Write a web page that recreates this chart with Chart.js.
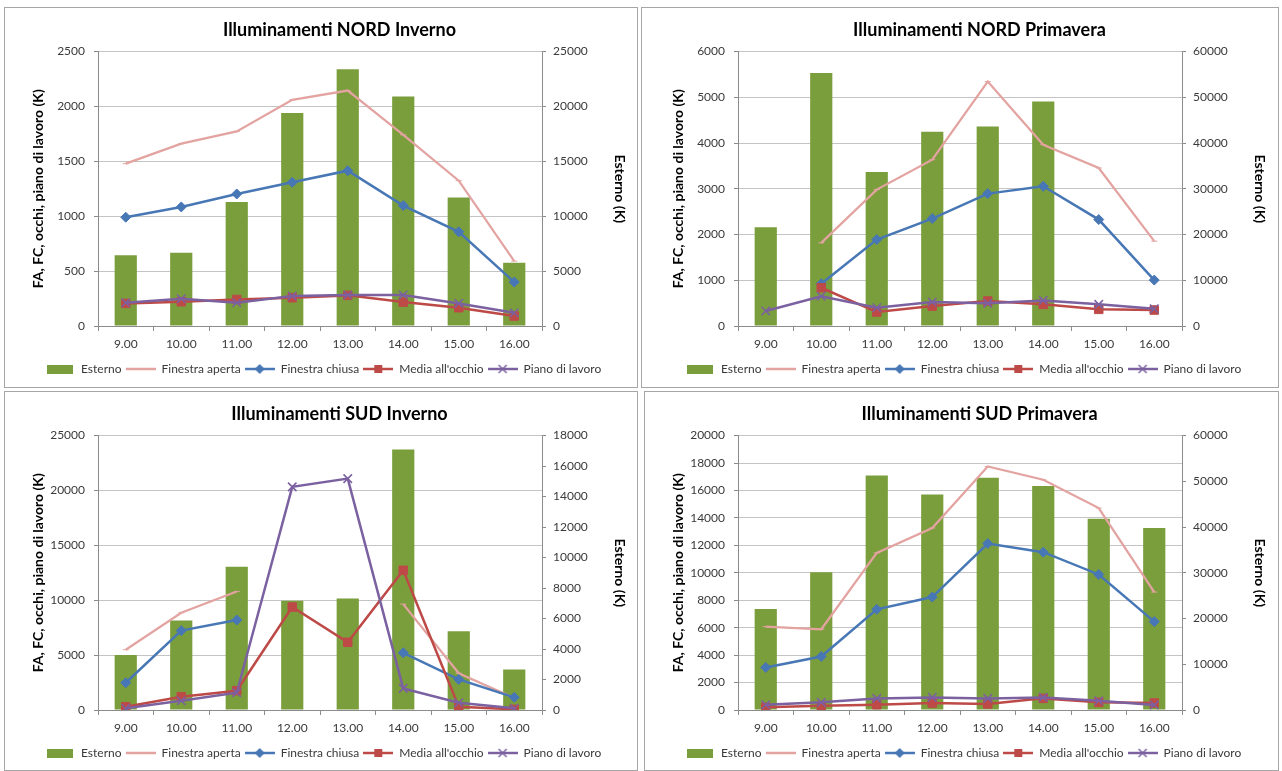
<!DOCTYPE html>
<html lang="it">
  <head>
    <meta charset="UTF-8" />
    <title>Illuminamenti</title>
    <script src="https://cdn.jsdelivr.net/npm/chart.js@4.4.1/dist/chart.umd.min.js"></script>
    <style>
      html, body { margin: 0; padding: 0; background: #fff; overflow: hidden; }
      body { width: 1282px; height: 771px; position: relative; }
      .box { position: absolute; width: 633px; height: 380px; }
      .frame { position: absolute; box-sizing: border-box; border: 1px solid #a6a6a6; pointer-events: none; }
    </style>
  </head>
  <body>
    <div class="box" style="left:5px;top:8px"><canvas id="nordInv" width="633" height="380"></canvas></div>
    <div class="box" style="left:645px;top:8px"><canvas id="nordPri" width="633" height="380"></canvas></div>
    <div class="box" style="left:5px;top:392px"><canvas id="sudInv" width="633" height="380"></canvas></div>
    <div class="box" style="left:645px;top:392px"><canvas id="sudPri" width="633" height="380"></canvas></div>

    <div class="frame" style="left:4px;top:7px;width:634px;height:381px"></div>
    <div class="frame" style="left:641px;top:7px;width:638px;height:381px"></div>
    <div class="frame" style="left:4px;top:391px;width:634px;height:380px"></div>
    <div class="frame" style="left:644px;top:391px;width:635px;height:380px"></div>

    <script>
      // categories (ore)
      const hours = ["9.00", "10.00", "11.00", "12.00", "13.00", "14.00", "15.00", "16.00"];
      const seriesNames = ["Esterno", "Finestra aperta", "Finestra chiusa", "Media all'occhio", "Piano di lavoro"];
      const leftTitle = "FA, FC, occhi, piano di lavoro (K)";
      const rightTitle = "Esterno (K)";

      // NORD Inverno
      const nordInvEsterno = [6450, 6670, 11300, 19400, 23400, 20900, 11700, 5760];
      const nordInvAperta = [1479, 1661, 1773, 2061, 2145, 1742, 1324, 591];
      const nordInvChiusa = [991, 1085, 1203, 1309, 1415, 1097, 858, 400];
      const nordInvOcchio = [206, 221, 242, 258, 279, 218, 167, 91];
      const nordInvPiano = [212, 248, 212, 273, 282, 282, 206, 121];
      const nordInvLeftAxis = [0, 2500, 500];
      const nordInvRightAxis = [0, 25000, 5000];

      // NORD Primavera
      const nordPriEsterno = [21600, 55300, 33700, 42500, 43600, 49100, null, null];
      const nordPriAperta = [null, 1818, 2982, 3636, 5345, 3964, 3455, 1855];
      const nordPriChiusa = [null, 924, 1891, 2349, 2895, 3055, 2327, 1004];
      const nordPriOcchio = [null, 836, 305, 436, 545, 473, 364, 349];
      const nordPriPiano = [327, 650, 400, 524, 495, 560, 473, 378];
      const nordPriLeftAxis = [0, 6000, 1000];
      const nordPriRightAxis = [0, 60000, 10000];

      // SUD Inverno
      const sudInvEsterno = [3600, 5870, 9400, 7170, 7320, 17080, 5170, 2650];
      const sudInvAperta = [5490, 8860, 10790, null, null, 9650, 3350, 1100];
      const sudInvChiusa = [2480, 7230, 8200, null, null, 5212, 2788, 1151];
      const sudInvOcchio = [303, 1212, 1758, 9380, 6170, 12727, 303, 61];
      const sudInvPiano = [152, 848, 1576, 20330, 21080, 1970, 667, 152];
      const sudInvLeftAxis = [0, 25000, 5000];
      const sudInvRightAxis = [0, 18000, 2000];

      // SUD Primavera
      const sudPriEsterno = [22100, 30100, 51300, 47100, 50800, 49000, 41800, 39800];
      const sudPriAperta = [6077, 5884, 11453, 13269, 17748, 16780, 14722, 8596];
      const sudPriChiusa = [3099, 3898, 7337, 8232, 12131, 11501, 9879, 6441];
      const sudPriOcchio = [194, 315, 387, 508, 436, 847, 557, 508];
      const sudPriPiano = [387, 557, 847, 920, 847, 920, 678, 363];
      const sudPriLeftAxis = [0, 20000, 2000];
      const sudPriRightAxis = [0, 60000, 10000];

      const green = "#7b9e3c";
      const pink = "#e3a3a0";
      const blue = "#4877b5";
      const red = "#bd4a47";
      const purple = "#7b61a0";

      Chart.defaults.font.family = "Lato, 'Liberation Sans', sans-serif";
      Chart.defaults.color = "#3a3a3a";

      // legend icons drawn like the excel ones (line + marker)
      function barIcon() {
        const c = document.createElement("canvas");
        c.width = 28; c.height = 10;
        const g = c.getContext("2d");
        g.fillStyle = green;
        g.fillRect(1, 1, 26, 9);
        return c;
      }
      function lineIcon(color, marker) {
        const c = document.createElement("canvas");
        c.width = 30; c.height = 12;
        const g = c.getContext("2d");
        g.strokeStyle = color;
        g.fillStyle = color;
        g.lineWidth = 2.5;
        g.beginPath(); g.moveTo(0, 6); g.lineTo(30, 6); g.stroke();
        if (marker === "diamond") {
          g.beginPath(); g.moveTo(15, 1); g.lineTo(20, 6); g.lineTo(15, 11); g.lineTo(10, 6); g.closePath(); g.fill();
        } else if (marker === "square") {
          g.fillRect(11, 2, 8, 8);
        } else if (marker === "x") {
          g.lineWidth = 1.5;
          g.beginPath(); g.moveTo(11, 2); g.lineTo(19, 10); g.moveTo(19, 2); g.lineTo(11, 10); g.stroke();
        }
        return c;
      }
      const icons = [barIcon(), lineIcon(pink, ""), lineIcon(blue, "diamond"), lineIcon(red, "square"), lineIcon(purple, "x")];

      // plain numbers on the axes, no thousands separator
      const plain = (v) => String(v);

      function makeChart(id, title, esterno, aperta, chiusa, occhio, piano, leftAxis, rightAxis) {
        const ctx = document.getElementById(id).getContext("2d");
        return new Chart(ctx, {
          type: "bar",
          data: {
            labels: hours,
            datasets: [
              {
                label: seriesNames[0], data: esterno, yAxisID: "y2", order: 5,
                backgroundColor: green, barPercentage: 0.4, categoryPercentage: 1
              },
              {
                type: "line", label: seriesNames[1], data: aperta, yAxisID: "y", order: 4,
                borderColor: pink, backgroundColor: pink, borderWidth: 2.25,
                pointStyle: "line", pointRadius: 3, pointBorderWidth: 1, tension: 0
              },
              {
                type: "line", label: seriesNames[2], data: chiusa, yAxisID: "y", order: 3,
                borderColor: blue, backgroundColor: blue, borderWidth: 2.5,
                pointStyle: "rectRot", pointRadius: 5, pointBorderWidth: 1, tension: 0
              },
              {
                type: "line", label: seriesNames[3], data: occhio, yAxisID: "y", order: 2,
                borderColor: red, backgroundColor: red, borderWidth: 2.5,
                pointStyle: "rect", pointRadius: 6, pointBorderWidth: 1, tension: 0
              },
              {
                type: "line", label: seriesNames[4], data: piano, yAxisID: "y", order: 1,
                borderColor: purple, backgroundColor: purple, borderWidth: 2.5,
                pointStyle: "crossRot", pointRadius: 6, pointBorderWidth: 1.5, tension: 0
              }
            ]
          },
          options: {
            responsive: false,
            animation: false,
            layout: { padding: { left: 36, right: 0, top: 0, bottom: 3 } },
            plugins: {
              tooltip: { enabled: false },
              title: {
                display: true, text: title, color: "#000",
                font: { size: 18, weight: "bold" },
                padding: { top: 11, bottom: 11 }
              },
              legend: {
                position: "bottom",
                align: "start",
                labels: {
                  usePointStyle: true, pointStyleWidth: 30, padding: 4,
                  font: { size: 12 }, color: "#3a3a3a",
                  generateLabels(chart) {
                    const items = Chart.defaults.plugins.legend.labels.generateLabels(chart);
                    items.forEach((it) => { it.pointStyle = icons[it.datasetIndex]; });
                    return items;
                  },
                  sort: (a, b) => a.datasetIndex - b.datasetIndex
                }
              }
            },
            scales: {
              x: {
                offset: true,
                grid: { offset: true, drawOnChartArea: false, drawTicks: true, tickLength: 5, color: "#8c8c8c" },
                border: { color: "#8c8c8c" },
                ticks: { padding: 6, font: { size: 12 } },
                afterFit: (s) => { s.height = 33; }
              },
              y: {
                position: "left",
                min: leftAxis[0], max: leftAxis[1],
                ticks: { stepSize: leftAxis[2], padding: 9, font: { size: 12 }, callback: plain },
                grid: { color: "#c4c4c4", tickLength: 4, tickColor: "#8c8c8c" },
                border: { color: "#8c8c8c" },
                title: { display: true, text: leftTitle, color: "#000", font: { size: 14, weight: "bold" }, padding: { top: -11, bottom: 0 } },
                afterFit: (s) => { s.width = 57; }
              },
              y2: {
                position: "right",
                min: rightAxis[0], max: rightAxis[1],
                ticks: { stepSize: rightAxis[2], padding: 7, font: { size: 12 }, callback: plain },
                grid: { drawOnChartArea: false, tickLength: 4, color: "#8c8c8c" },
                border: { color: "#8c8c8c" },
                title: { display: true, text: rightTitle, color: "#000", font: { size: 14, weight: "bold" }, padding: { top: 10, bottom: 0 } },
                afterFit: (s) => { s.width = 96; }
              }
            }
          }
        });
      }

      makeChart("nordInv", "Illuminamenti NORD Inverno", nordInvEsterno, nordInvAperta, nordInvChiusa, nordInvOcchio, nordInvPiano, nordInvLeftAxis, nordInvRightAxis);
      makeChart("nordPri", "Illuminamenti NORD Primavera", nordPriEsterno, nordPriAperta, nordPriChiusa, nordPriOcchio, nordPriPiano, nordPriLeftAxis, nordPriRightAxis);
      makeChart("sudInv", "Illuminamenti SUD Inverno", sudInvEsterno, sudInvAperta, sudInvChiusa, sudInvOcchio, sudInvPiano, sudInvLeftAxis, sudInvRightAxis);
      makeChart("sudPri", "Illuminamenti SUD Primavera", sudPriEsterno, sudPriAperta, sudPriChiusa, sudPriOcchio, sudPriPiano, sudPriLeftAxis, sudPriRightAxis);
    </script>
  </body>
</html>
